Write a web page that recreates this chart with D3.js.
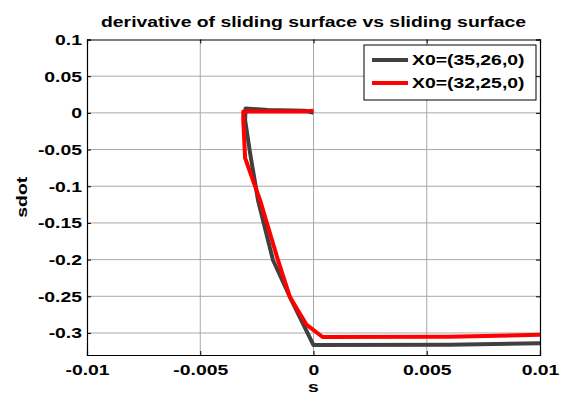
<!DOCTYPE html>
<html>
<head>
<meta charset="utf-8">
<script src="https://cdn.jsdelivr.net/npm/d3@7"></script>
<style>
  body { margin: 0; background: #fff; }
  svg text { font-family: "Liberation Sans", Arial, sans-serif; font-weight: bold; fill: #000; }
</style>
</head>
<body>
<div id="chart"></div>
<script>
// Curve for X0=(35,26,0)
const sBlack    = [0, -0.0004, -0.002, -0.003, -0.00302, -0.0028, -0.00245, -0.00179, -0.00104, 0.0000, 0.006, 0.01];
const sdotBlack = [0, 0.003, 0.004, 0.006, -0.0097, -0.0547, -0.119, -0.2005, -0.251, -0.3164, -0.316, -0.314];
// Curve for X0=(32,25,0)
const sRed    = [0, -0.0004, -0.002, -0.0031, -0.0031, -0.00302, -0.00236, -0.00157, -0.00104, -0.0003, 0.0004, 0.006, 0.01];
const sdotRed = [0.003, 0.002, 0.002, 0.002, -0.01, -0.0615, -0.119, -0.2005, -0.251, -0.289, -0.3055, -0.305, -0.3025];

const xTicks = [-0.01, -0.005, 0, 0.005, 0.01];
const yTicks = [0.1, 0.05, 0, -0.05, -0.1, -0.15, -0.2, -0.25, -0.3];
const legendLabels = ['X0=(35,26,0)', 'X0=(32,25,0)'];
const seriesColors = ['#404040', '#ff0000'];

const W = 566, H = 396;
const margin = { top: 39.5, right: 26, bottom: 41, left: 87 };
const width = W - margin.left - margin.right;
const height = H - margin.top - margin.bottom;
const stretch = 1.25; // the reference text is wider than it is tall

const svg = d3.select('#chart').append('svg')
    .attr('width', W)
    .attr('height', H);

const g = svg.append('g')
    .attr('transform', `translate(${margin.left},${margin.top})`);

const x = d3.scaleLinear().domain([-0.01, 0.01]).range([0, width]);
const y = d3.scaleLinear().domain([-0.33, 0.1]).range([height, 0]);

// Grid
g.append('g').selectAll('line')
    .data(xTicks.slice(1, -1))
    .join('line')
    .attr('x1', d => x(d)).attr('x2', d => x(d))
    .attr('y1', 0).attr('y2', height)
    .attr('stroke', '#a8a8a8').attr('stroke-width', 1);

g.append('g').selectAll('line')
    .data(yTicks.slice(1))
    .join('line')
    .attr('x1', 0).attr('x2', width)
    .attr('y1', d => y(d)).attr('y2', d => y(d))
    .attr('stroke', '#a8a8a8').attr('stroke-width', 1);

// Axes (ticks pointing inward, as in MATLAB); plain hyphen for negatives
const fmt = d => String(+d.toFixed(3));

const xAxis = g.append('g')
    .attr('transform', `translate(0,${height})`)
    .call(d3.axisBottom(x).tickValues(xTicks).tickSize(-4).tickPadding(9).tickFormat(fmt));
xAxis.selectAll('text')
    .attr('font-size', '15.5px')
    .attr('dy', '0.71em')
    .attr('transform', `scale(${stretch},1)`)
    .attr('x', 0);

const yAxis = g.append('g')
    .call(d3.axisLeft(y).tickValues(yTicks).tickSize(-4).tickPadding(5).tickFormat(fmt));
yAxis.selectAll('text')
    .attr('font-size', '15.5px')
    .attr('x', -5 / stretch)
    .attr('transform', `scale(${stretch},1)`);

g.append('g')
    .call(d3.axisTop(x).tickValues(xTicks).tickSize(-4).tickFormat(''));
g.append('g')
    .attr('transform', `translate(${width},0)`)
    .call(d3.axisRight(y).tickValues(yTicks).tickSize(-4).tickFormat(''));

g.selectAll('.domain').attr('stroke', '#000').attr('stroke-width', 1.2);
g.selectAll('.tick line').attr('stroke', '#000');

// Curves
const line = d3.line().x(d => x(d[0])).y(d => y(d[1]));
const series = [
    d3.zip(sBlack, sdotBlack),
    d3.zip(sRed, sdotRed)
];
series.forEach((pts, i) => {
    g.append('path')
        .datum(pts)
        .attr('d', line)
        .attr('fill', 'none')
        .attr('stroke', seriesColors[i])
        .attr('stroke-width', 4)
        .attr('stroke-linejoin', 'round');
});

// Title and axis labels
svg.append('text')
    .attr('transform', `translate(${margin.left + width / 2},27) scale(${stretch},1)`)
    .attr('text-anchor', 'middle')
    .attr('font-size', '15.5px')
    .text('derivative of sliding surface vs sliding surface');

svg.append('text')
    .attr('transform', `translate(${margin.left + width / 2},392) scale(${stretch},1)`)
    .attr('text-anchor', 'middle')
    .attr('font-size', '15.5px')
    .text('s');

svg.append('text')
    .attr('transform', `translate(27,${margin.top + height / 2}) rotate(-90) scale(${stretch},1)`)
    .attr('text-anchor', 'middle')
    .attr('font-size', '15.5px')
    .text('sdot');

// Legend
const legend = svg.append('g').attr('transform', 'translate(364,45)');
legend.append('rect')
    .attr('width', 172).attr('height', 55)
    .attr('fill', '#fff').attr('stroke', '#000').attr('stroke-width', 1);
legendLabels.forEach((label, i) => {
    const ly = 15 + i * 23;
    legend.append('line')
        .attr('x1', 8).attr('x2', 44)
        .attr('y1', ly).attr('y2', ly)
        .attr('stroke', seriesColors[i]).attr('stroke-width', 4);
    legend.append('text')
        .attr('transform', `translate(48,${ly}) scale(${stretch},1)`)
        .attr('dy', '0.35em')
        .attr('font-size', '15.5px')
        .text(label);
});
</script>
</body>
</html>
